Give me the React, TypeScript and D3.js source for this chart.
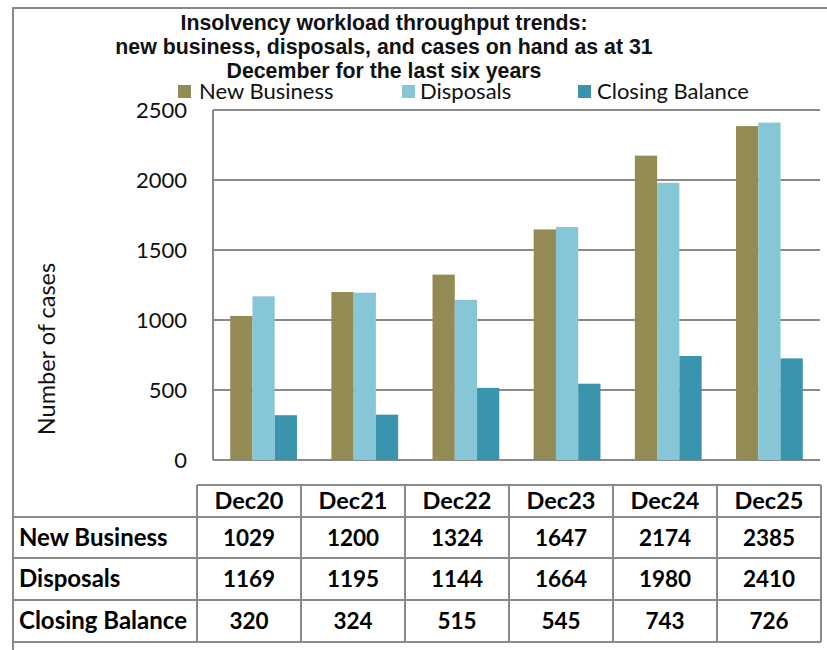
import React from "react";
import * as d3 from "d3";

const categories = ["Dec20", "Dec21", "Dec22", "Dec23", "Dec24", "Dec25"];
const seriesNames = ["New Business", "Disposals", "Closing Balance"];
const newBusiness = [1029, 1200, 1324, 1647, 2174, 2385];
const disposals = [1169, 1195, 1144, 1664, 1980, 2410];
const closingBalance = [320, 324, 515, 545, 743, 726];
const yTicks = [0, 500, 1000, 1500, 2000, 2500];
const titleLines = [
  "Insolvency workload throughput trends:",
  "new business, disposals, and cases on hand as at 31",
  "December for the last six years",
];
const colors = ["#948A54", "#86C6D6", "#3A94AE"];

export default function App() {
  const W = 827, H = 650;
  const left = 213, right = 820, top = 110, bottom = 460;
  const series = [newBusiness, disposals, closingBalance];
  const x0 = d3.scaleBand<string>().domain(categories).range([left, right]).paddingInner(0.34).paddingOuter(0.17);
  const x1 = d3.scaleBand<number>().domain([0, 1, 2]).range([0, x0.bandwidth()]);
  const y = d3.scaleLinear().domain([0, 2500]).range([bottom, top]);
  const grid = "#8a8a8a";
  const calibri = "Lato, 'Open Sans', sans-serif";

  const tx = d3.scaleBand<string>().domain(categories).range([197, 821]);
  const rowEdges = [485, 517, 558, 600, 642];

  return (
    <svg width={W} height={H} style={{ position: "absolute", left: 0, top: 0, background: "#fff" }}>
      <rect x={0} y={0} width={W} height={H} fill="#fff" />
      <rect x={13} y={8} width={900} height={800} fill="none" stroke={grid} strokeWidth={2} />
      {titleLines.map((t, i) => (
        <text key={i} x={384} y={30 + i * 24} textAnchor="middle" fontFamily="'Liberation Sans', Arial, sans-serif" fontWeight="bold" fontSize={21.3} fill="#111">{t}</text>
      ))}
      {[[178, 199], [402, 420], [578, 597]].map(([sx, tx2], i) => (
        <g key={i}>
          <rect x={sx} y={85} width={13} height={13} fill={colors[i]} />
          <text x={tx2} y={99} fontFamily={calibri} fontSize={22} fill="#111">{seriesNames[i]}</text>
        </g>
      ))}
      {yTicks.map((t) => (
        <g key={t}>
          <line x1={left} x2={right} y1={y(t)} y2={y(t)} stroke={grid} strokeWidth={2} />
          <text x={187} y={y(t) + 8} textAnchor="end" fontFamily={calibri} fontSize={22} fill="#111">{t}</text>
        </g>
      ))}
      <line x1={left} x2={left} y1={top} y2={bottom} stroke={grid} strokeWidth={2} />
      <text transform={`translate(55,349) rotate(-90)`} textAnchor="middle" fontFamily={calibri} fontSize={23.5} fill="#111">Number of cases</text>
      {categories.map((c, ci) => (
        <g key={c}>
          {series.map((s, si) => (
            <rect key={si} x={(x0(c) as number) + (x1(si) as number)} y={y(s[ci])} width={x1.bandwidth()} height={bottom - y(s[ci])} fill={colors[si]} />
          ))}
        </g>
      ))}
      <g fontFamily={calibri} fontWeight="bold" fill="#000">
        {rowEdges.map((ry, i) => (
          <line key={i} x1={i === 0 ? 197 : 13} x2={821} y1={ry} y2={ry} stroke={grid} strokeWidth={2} />
        ))}
        {[...categories.map((c) => tx(c) as number), 821].map((vx, i) => (
          <line key={i} x1={vx} x2={vx} y1={rowEdges[0]} y2={rowEdges[4]} stroke={grid} strokeWidth={2} />
        ))}
        {categories.map((c) => (
          <text key={c} x={(tx(c) as number) + tx.bandwidth() / 2} y={509} textAnchor="middle" fontSize={23.5}>{c}</text>
        ))}
        {series.map((s, si) => (
          <g key={si}>
            <text x={19} y={(rowEdges[si + 1] + rowEdges[si + 2]) / 2 + 8} fontSize={24}>{seriesNames[si]}</text>
            {s.map((v, ci) => (
              <text key={ci} x={(tx(categories[ci]) as number) + tx.bandwidth() / 2} y={(rowEdges[si + 1] + rowEdges[si + 2]) / 2 + 8} textAnchor="middle" fontSize={22.5}>{v}</text>
            ))}
          </g>
        ))}
      </g>
    </svg>
  );
}
